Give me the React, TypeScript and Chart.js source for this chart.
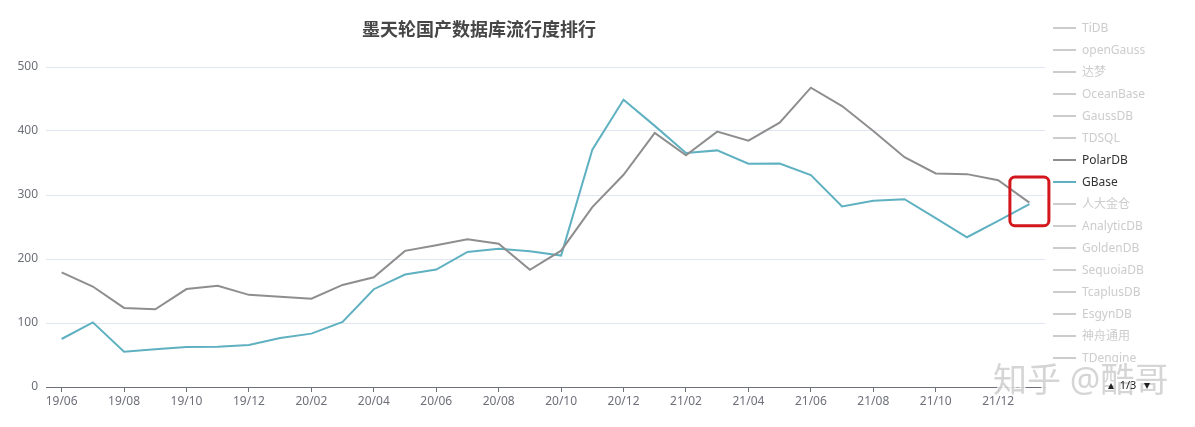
import React, { useEffect, useRef } from 'react';
import { Chart, registerables } from 'chart.js';

Chart.register(...registerables);

const months = [
  '19/06', '19/07', '19/08', '19/09', '19/10', '19/11', '19/12',
  '20/01', '20/02', '20/03', '20/04', '20/05', '20/06', '20/07', '20/08', '20/09', '20/10', '20/11', '20/12',
  '21/01', '21/02', '21/03', '21/04', '21/05', '21/06', '21/07', '21/08', '21/09', '21/10', '21/11', '21/12',
  '22/01',
];

const polarDB = [
  179, 157, 123.6, 121.5, 153, 158, 144,
  141, 138, 159.5, 171.5, 212.7, 221.6, 231, 224, 183, 213, 281, 331.6,
  397, 362, 399, 385, 413, 467.7, 439, 400, 359, 333.7, 332.6, 323,
  288,
];

const gBase = [
  75, 101, 55, 59, 62.5, 63, 65.7,
  76.6, 83.4, 101.7, 152.8, 175.7, 183.5, 211, 216, 212, 205.4, 370.7, 449,
  408, 365.5, 369.7, 349, 349.3, 331, 282, 291, 293.5, 264, 234, 259.6,
  285.7,
];

const legendNames = [
  'TiDB', 'openGauss', '达梦', 'OceanBase', 'GaussDB', 'TDSQL', 'PolarDB', 'GBase',
  '人大金仓', 'AnalyticDB', 'GoldenDB', 'SequoiaDB', 'TcaplusDB', 'EsgynDB', '神舟通用', 'TDengine',
];

const titleText = '墨天轮国产数据库流行度排行';
const pageText = '1/3';
const watermarkText = '知乎 @酷哥';

const highlightIndex = 31;
const highlightRange = [252, 328];

const GRAY = '#8e8e8e';
const TEAL = '#5fb1c1';
const INACTIVE = '#cccccc';
const activeColors: Record<string, string> = { PolarDB: GRAY, GBase: TEAL };

const CJK = '"Noto Sans", "Noto Sans CJK SC", sans-serif';

const overlayPlugin = {
  id: 'overlay',
  afterDraw(chart: any) {
    const ctx = chart.ctx as CanvasRenderingContext2D;
    const xs = chart.scales.x;
    const ys = chart.scales.y;
    ctx.save();

    // Title
    ctx.font = `bold 18px ${CJK}`;
    ctx.fillStyle = '#464646';
    ctx.textAlign = 'center';
    ctx.textBaseline = 'middle';
    ctx.fillText(titleText, 471, 23);

    // Legend
    ctx.font = `12px ${CJK}`;
    ctx.textAlign = 'left';
    legendNames.forEach((name, i) => {
      const y = 20 + i * 22;
      const c = activeColors[name];
      ctx.fillStyle = c || INACTIVE;
      ctx.fillRect(1045, y - 1, 23, 2);
      ctx.fillStyle = c ? '#333333' : INACTIVE;
      ctx.fillText(name, 1074, y + 0.5);
    });

    // Highlight box
    const cx = xs.getPixelForValue(highlightIndex);
    const yTop = ys.getPixelForValue(highlightRange[1]);
    const yBot = ys.getPixelForValue(highlightRange[0]);
    ctx.strokeStyle = '#d2161c';
    ctx.lineWidth = 3;
    ctx.beginPath();
    (ctx as any).roundRect(cx - 19.5, yTop, 39, yBot - yTop, 5);
    ctx.stroke();

    // Watermark
    ctx.font = `34px ${CJK}`;
    ctx.textAlign = 'left';
    ctx.textBaseline = 'middle';
    ctx.lineWidth = 3;
    ctx.strokeStyle = 'rgba(255,255,255,0.85)';
    ctx.strokeText(watermarkText, 985, 374);
    ctx.fillStyle = 'rgba(150,150,150,0.4)';
    ctx.fillText(watermarkText, 985, 374);

    // Legend pagination
    ctx.fillStyle = '#222';
    ctx.font = `11px ${CJK}`;
    ctx.textAlign = 'center';
    ctx.fillText(pageText, 1120, 378);
    ctx.beginPath();
    ctx.moveTo(1100, 381); ctx.lineTo(1106, 381); ctx.lineTo(1103, 375); ctx.closePath();
    ctx.fill();
    ctx.beginPath();
    ctx.moveTo(1136, 375); ctx.lineTo(1142, 375); ctx.lineTo(1139, 381); ctx.closePath();
    ctx.fill();

    ctx.restore();
  },
};

export default function App() {
  const ref = useRef<HTMLCanvasElement>(null);
  useEffect(() => {
    if (!ref.current) return;
    const chart = new Chart(ref.current, {
      type: 'line',
      data: {
        labels: months,
        datasets: [
          {
            label: 'PolarDB',
            data: polarDB,
            borderColor: GRAY,
            borderWidth: 2,
            pointRadius: 0,
            tension: 0,
            fill: false,
          },
          {
            label: 'GBase',
            data: gBase,
            borderColor: TEAL,
            borderWidth: 2,
            pointRadius: 0,
            tension: 0,
            fill: false,
          },
        ],
      },
      options: {
        animation: false,
        responsive: true,
        maintainAspectRatio: false,
        layout: { padding: { top: 59, right: 142, bottom: 0, left: 0 } },
        plugins: {
          legend: { display: false },
          title: { display: false },
          tooltip: { enabled: false },
        },
        scales: {
          x: {
            type: 'category',
            offset: true,
            afterFit: (s: any) => { s.height = 32; },
            grid: {
              drawOnChartArea: false,
              drawTicks: true,
              tickLength: 5,
              tickColor: (c: any) => (c.index % 2 === 0 ? '#6e7079' : 'rgba(0,0,0,0)'),
            },
            border: { display: true, color: '#6e7079', width: 1 },
            ticks: {
              autoSkip: false,
              maxRotation: 0,
              padding: 2,
              color: '#6e7079',
              font: { size: 12, family: CJK },
              callback: (_v: any, i: number) => (i % 2 === 0 ? months[i] : ''),
            },
          },
          y: {
            min: 0,
            max: 500,
            afterFit: (s: any) => { s.width = 38; },
            grid: { color: '#e0e6f1', drawTicks: false },
            border: { display: false },
            ticks: {
              stepSize: 100,
              padding: 8,
              color: '#6e7079',
              font: { size: 12, family: CJK },
            },
          },
        },
      },
      plugins: [overlayPlugin],
    });
    return () => chart.destroy();
  }, []);
  return (
    <div style={{ width: 1179, height: 411, position: 'relative' }}>
      <canvas ref={ref} />
    </div>
  );
}
